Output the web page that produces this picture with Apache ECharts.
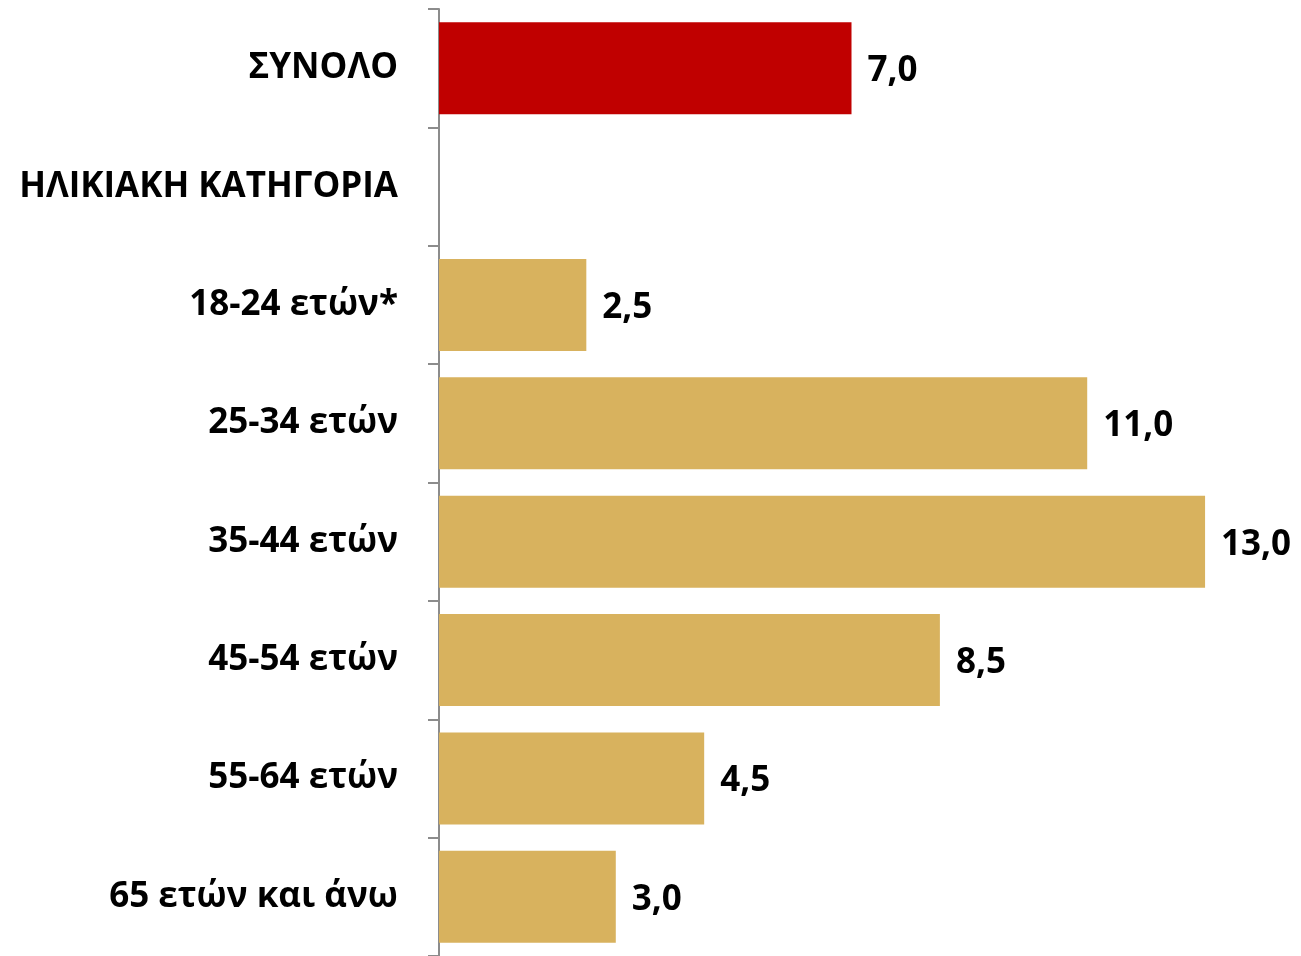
<!DOCTYPE html>
<html>
<head>
<meta charset="utf-8">
<script src="https://cdn.jsdelivr.net/npm/echarts@6/dist/echarts.min.js"></script>
<style>
    html, body { margin: 0; padding: 0; background: #fff; }
    #chart { width: 1301px; height: 956px; }
</style>
</head>
<body>
<div id="chart"></div>
<script>
const categories = ['ΣΥΝΟΛΟ', 'ΗΛΙΚΙΑΚΗ ΚΑΤΗΓΟΡΙΑ', '18-24 ετών*', '25-34 ετών', '35-44 ετών', '45-54 ετών', '55-64 ετών', '65 ετών και άνω'];
const values = [7.0, null, 2.5, 11.0, 13.0, 8.5, 4.5, 3.0];
const highlighted = [true, false, false, false, false, false, false, false];

const chart = echarts.init(document.getElementById('chart'));

const option = {
    animation: false,
    textStyle: { fontFamily: 'Open Sans' },
    grid: { left: 439, right: 37, top: 9, bottom: -3 },
    xAxis: {
        type: 'value',
        min: 0,
        max: 14,
        show: false,
    },
    yAxis: {
        type: 'category',
        inverse: true,
        data: categories,
        axisLine: { show: true, lineStyle: { color: '#8c8c8c', width: 2 } },
        axisTick: { show: true, inside: false, length: 11, lineStyle: { color: '#8c8c8c', width: 2 } },
        axisLabel: {
            margin: 41,
            fontSize: 35,
            fontWeight: 'bold',
            color: '#000',
            fontFamily: 'Open Sans',
        },
    },
    series: [
        {
            type: 'bar',
            barWidth: 92,
            data: values.map((v, i) => ({
                value: v,
                itemStyle: {
                    color: highlighted[i] ? '#C00000' : '#D8B25E',
                },
            })),
            label: {
                show: true,
                position: 'right',
                distance: 16,
                offset: [0, 3],
                fontSize: 35,
                fontWeight: 'bold',
                color: '#000',
                fontFamily: 'Open Sans',
                formatter: (p) => (p.value == null ? '' : p.value.toFixed(1).replace('.', ',')),
            },
        },
    ],
};

chart.setOption(option);
</script>
</body>
</html>
